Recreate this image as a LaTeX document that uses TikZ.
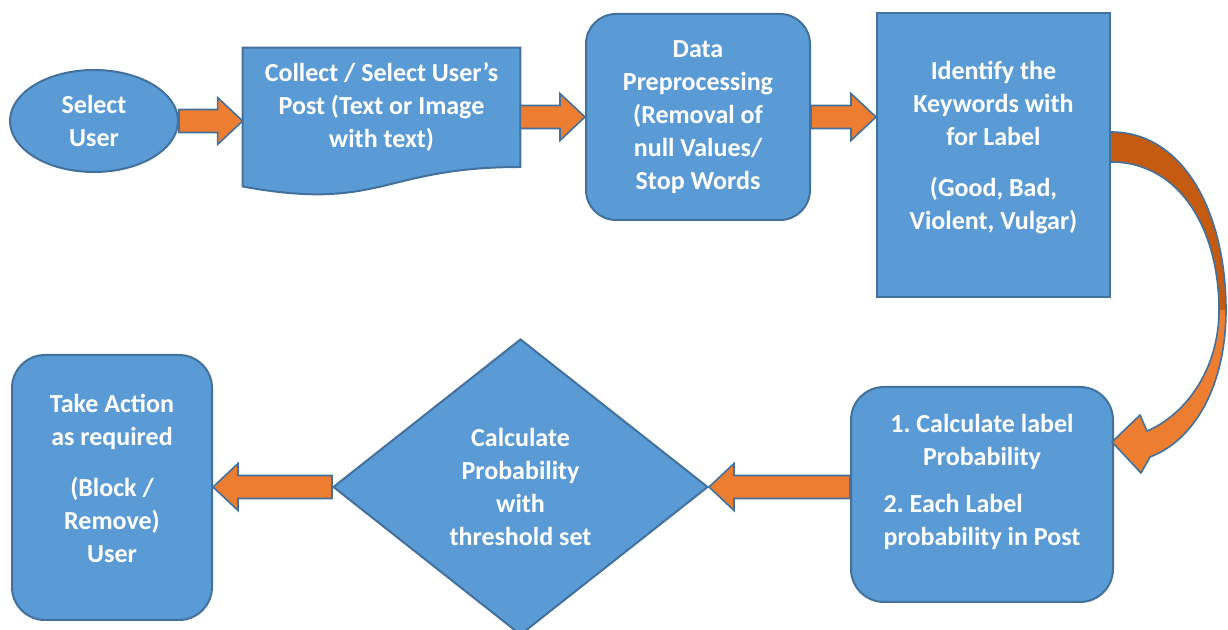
\documentclass[tikz,border=0pt]{standalone}
\usepackage{fontspec}
\setmainfont{Carlito}
\usetikzlibrary{shapes.geometric,calc,backgrounds}
\definecolor{boxblue}{HTML}{5B9BD5}
\definecolor{edgeblue}{HTML}{41719C}
\definecolor{flow}{HTML}{ED7D31}
\definecolor{flowdark}{HTML}{C55A11}
\frenchspacing

\begin{document}
\begin{tikzpicture}[x=0.5pt, y=-0.5pt,
  txt/.style={text=white, font=\bfseries\fontsize{13}{16.5}\selectfont, align=center},
  bluefill/.style={draw=edgeblue, fill=boxblue, line width=1pt},
  blk/.style={bluefill, txt, inner sep=0pt},
  rbox/.style={blk, rounded corners=15pt},
  fat/.style={fill=flow, draw=edgeblue, line width=0.8pt, to path={
    ($(\tikztostart)!5.75pt!90:(\tikztotarget)$)
    -- ($(\tikztotarget)!13.76pt!-24.7:(\tikztostart)$)
    -- ($(\tikztotarget)!17.16pt!-43.2:(\tikztostart)$)
    -- (\tikztotarget)
    -- ($(\tikztotarget)!17.16pt!43.2:(\tikztostart)$)
    -- ($(\tikztotarget)!13.76pt!24.7:(\tikztostart)$)
    -- ($(\tikztostart)!5.75pt!-90:(\tikztotarget)$) -- cycle}}
]
  \useasboundingbox (0,0) rectangle (1228,630);

  % top row
  \node[blk, ellipse, minimum width=84pt, minimum height=51pt] (sel) at (94,121) {Select\\User};
  \node[txt, inner sep=0pt, minimum width=138.5pt, minimum height=59.3pt] (post) at (381.5,107.3)
    {Collect / Select User’s\\Post (Text or Image\\with text)};
  \node[rbox, minimum width=112pt, minimum height=103pt] (data) at (698,117)
    {Data\\Preprocessing\\(Removal of\\null Values/\\Stop Words};
  \node[blk, minimum width=116.5pt, minimum height=142pt,
    label={[txt, yshift=3.75pt]center:{Identify the\\Keywords with\\for Label\\[9pt](Good, Bad,\\Violent, Vulgar)}}]
    (ident) at (993.5,155) {};

  % bottom row
  \node[rbox, rounded corners=16.5pt, minimum width=131pt, minimum height=107.5pt,
    label={[txt, yshift=5pt]center:{1. Calculate label\\Probability\\[9pt]\begin{tabular}{@{}l@{}}2. Each Label\\probability in Post\end{tabular}}}]
    (calcp) at (982,494.5) {};
  \node[blk, diamond, aspect=1.27, minimum width=187.5pt, minimum height=148pt] (thr) at (520.5,487)
    {Calculate\\Probability\\with\\threshold set};
  \node[rbox, rounded corners=16.5pt, minimum width=100pt, minimum height=132.5pt,
    label={[txt, yshift=4.75pt]center:{Take Action\\as required\\[9pt](Block /\\Remove)\\User}}]
    (act) at (112,487.5) {};

  % document shape behind the post text
  \begin{scope}[on background layer]
    \draw[bluefill] (post.north west) -- (post.north east) -- (post.south east)
      .. controls (post.south) and ($(post.south)+(0,45)$) .. ($(post.south west)+(0,19.5)$) -- cycle;
  \end{scope}

  % block arrows
  \draw[fat] (sel.east) to (sel.east -| post.west);
  \draw[fat] (post.east |- data.west) to (data.west);
  \draw[fat] (data.east) to (data.east -| ident.west);
  \draw[fat] (calcp.west |- thr.east) to (thr.east);
  \draw[fat] (thr.west) to (thr.west -| act.east);

  % curved arrow from ident round to calcp
  \coordinate (cvtop) at ($(ident.east)+(0,-23)$);
  \coordinate (cvbot) at ($(ident.east)+(0,7)$);
  \coordinate (cvtip) at ($(calcp.north east)+(-2,56)$);
  \fill[flowdark] (cvtop) .. controls (1185,132) and (1226,215) .. (1226,310)
    -- (1219,310) .. controls (1219,230) and (1180,162) .. (cvbot) -- cycle;
  \fill[flow] (1226,310) .. controls (1226,385) and (1195,440) .. (1150,457)
    -- (1141,473) -- (cvtip) -- (1140,415) -- (1147,431)
    .. controls (1185,415) and (1219,370) .. (1219,310) -- cycle;
  \draw[edgeblue, line width=0.8pt, line join=round] (cvtop) .. controls (1185,132) and (1226,215) .. (1226,310)
    .. controls (1226,385) and (1195,440) .. (1150,457)
    -- (1141,473) -- (cvtip) -- (1140,415) -- (1147,431)
    .. controls (1185,415) and (1219,370) .. (1219,310)
    .. controls (1219,230) and (1180,162) .. (cvbot);
\end{tikzpicture}
\end{document}
